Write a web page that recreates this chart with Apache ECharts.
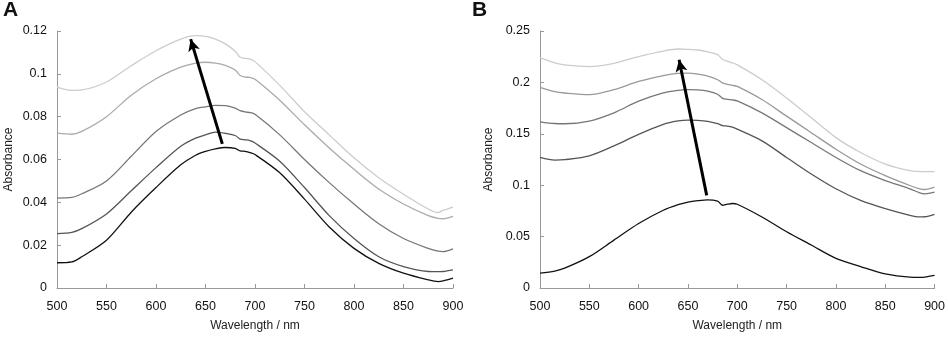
<!DOCTYPE html>
<html>
<head>
<meta charset="utf-8">
<script src="https://cdn.jsdelivr.net/npm/echarts@6/dist/echarts.min.js"></script>
<style>
  html, body { margin: 0; padding: 0; background: #fff; }
  #chart { width: 948px; height: 337px; }
</style>
</head>
<body>
<div id="chart"></div>
<script>
// wavelengths (nm) at which the curves were read
const wavelengths = [500, 515, 525, 550, 575, 600, 625, 640, 650, 660, 670, 680, 685, 690, 695, 700, 725, 750, 775, 800, 825, 850, 875, 885, 890, 900];

// panel A, bottom (black) to top (lightest)
const a1 = [0.0118, 0.0122, 0.0146, 0.0223, 0.0354, 0.0469, 0.0575, 0.0620, 0.0638, 0.0650, 0.0656, 0.0652, 0.0640, 0.0638, 0.0632, 0.0623, 0.0538, 0.0415, 0.0285, 0.0185, 0.0115, 0.0069, 0.0038, 0.0030, 0.0033, 0.0046];
const a2 = [0.0254, 0.0260, 0.0277, 0.0346, 0.0454, 0.0562, 0.0662, 0.0700, 0.0715, 0.0728, 0.0722, 0.0712, 0.0695, 0.0692, 0.0688, 0.0677, 0.0592, 0.0469, 0.0338, 0.0231, 0.0146, 0.0100, 0.0077, 0.0076, 0.0077, 0.0085];
const a3 = [0.0420, 0.0423, 0.0440, 0.0500, 0.0615, 0.0731, 0.0808, 0.0838, 0.0846, 0.0853, 0.0852, 0.0840, 0.0828, 0.0822, 0.0819, 0.0811, 0.0715, 0.0600, 0.0492, 0.0392, 0.0300, 0.0231, 0.0185, 0.0172, 0.0170, 0.0183];
const a4 = [0.0723, 0.0718, 0.0731, 0.0800, 0.0900, 0.0977, 0.1031, 0.1050, 0.1054, 0.1050, 0.1040, 0.1018, 0.0992, 0.0985, 0.0983, 0.0975, 0.0877, 0.0762, 0.0654, 0.0554, 0.0462, 0.0392, 0.0338, 0.0325, 0.0323, 0.0334];
const a5 = [0.0938, 0.0923, 0.0925, 0.0962, 0.1038, 0.1108, 0.1162, 0.1178, 0.1175, 0.1162, 0.1140, 0.1105, 0.1077, 0.1072, 0.1069, 0.1057, 0.0946, 0.0823, 0.0715, 0.0608, 0.0515, 0.0438, 0.0369, 0.0352, 0.0362, 0.0378];

// panel B
const b1 = [0.0145, 0.0165, 0.0193, 0.0305, 0.0466, 0.0627, 0.0756, 0.0810, 0.0836, 0.0850, 0.0858, 0.0845, 0.0805, 0.0815, 0.0822, 0.0815, 0.0691, 0.0547, 0.0418, 0.0289, 0.0209, 0.0138, 0.0106, 0.0104, 0.0106, 0.0122];
const b2 = [0.1270, 0.1244, 0.1248, 0.1286, 0.1383, 0.1495, 0.1592, 0.1625, 0.1633, 0.1630, 0.1620, 0.1598, 0.1580, 0.1575, 0.1565, 0.1545, 0.1431, 0.1270, 0.1109, 0.0965, 0.0852, 0.0772, 0.0707, 0.0691, 0.0693, 0.0717];
const b3 = [0.1617, 0.1600, 0.1598, 0.1624, 0.1704, 0.1817, 0.1897, 0.1922, 0.1929, 0.1927, 0.1915, 0.1885, 0.1845, 0.1835, 0.1830, 0.1820, 0.1704, 0.1560, 0.1415, 0.1270, 0.1141, 0.1045, 0.0965, 0.0925, 0.0916, 0.0932];
const b4 = [0.1952, 0.1910, 0.1897, 0.1881, 0.1929, 0.2010, 0.2067, 0.2088, 0.2090, 0.2080, 0.2062, 0.2026, 0.1995, 0.1980, 0.1972, 0.1961, 0.1833, 0.1672, 0.1511, 0.1350, 0.1206, 0.1093, 0.0997, 0.0965, 0.0958, 0.0981];
const b5 = [0.2241, 0.2190, 0.2170, 0.2154, 0.2186, 0.2251, 0.2305, 0.2325, 0.2322, 0.2315, 0.2298, 0.2270, 0.2225, 0.2205, 0.2190, 0.2170, 0.2026, 0.1849, 0.1656, 0.1463, 0.1318, 0.1206, 0.1141, 0.1133, 0.1132, 0.1132];

// arrows: [tail, head] as [wavelength, absorbance]
const arrowA = [[667, 0.0673], [635, 0.1162]];
const arrowB = [[669, 0.0901], [641, 0.2220]];

const colorsA = ['#111', '#555', '#777', '#aaa', '#ccc'];
const colorsB = ['#111', '#555', '#777', '#999', '#ccc'];

const font = 'Liberation Sans, Arial, sans-serif';
const pair = ys => wavelengths.map((w, i) => [w, ys[i]]);

const xAxisOf = gridIndex => ({
  type: 'value', gridIndex,
  min: 500, max: 900, interval: 50,
  name: 'Wavelength / nm', nameLocation: 'middle', nameGap: 32,
  nameTextStyle: { color: '#222', fontSize: 12, fontFamily: font },
  axisLine: { lineStyle: { color: '#999' } },
  axisTick: { inside: true, length: 4, lineStyle: { color: '#999' } },
  axisLabel: { color: '#111', fontSize: 12.5, fontFamily: font, margin: 12 },
  splitLine: { show: false }
});

const yAxisOf = (gridIndex, max, interval, gap) => ({
  type: 'value', gridIndex,
  min: 0, max, interval,
  name: 'Absorbance', nameLocation: 'middle', nameGap: gap,
  nameTextStyle: { color: '#222', fontSize: 12, fontFamily: font },
  axisLine: { show: true, lineStyle: { color: '#999' } },
  axisTick: { show: true, inside: true, length: 4, lineStyle: { color: '#999' } },
  axisLabel: { color: '#111', fontSize: 12.5, fontFamily: font, margin: 10 },
  splitLine: { show: false }
});

const lineOf = (data, color, idx) => ({
  type: 'line', xAxisIndex: idx, yAxisIndex: idx,
  data: pair(data), showSymbol: false, smooth: 0.3,
  lineStyle: { color, width: 1.3 }, silent: true
});

const arrowOf = arr => ({
  silent: true,
  symbol: ['none', 'arrow'], symbolSize: [9, 12],
  label: { show: false },
  lineStyle: { color: '#000', width: 3, type: 'solid' },
  data: [[{ coord: arr[0] }, { coord: arr[1] }]]
});

const seriesA = [a1, a2, a3, a4, a5].map((d, i) => lineOf(d, colorsA[i], 0));
const seriesB = [b1, b2, b3, b4, b5].map((d, i) => lineOf(d, colorsB[i], 1));
seriesA[0].markLine = arrowOf(arrowA);
seriesB[0].markLine = arrowOf(arrowB);

const chart = echarts.init(document.getElementById('chart'));
chart.setOption({
  animation: false,
  backgroundColor: '#fff',
  title: [
    { text: 'A', left: 3, top: 0, padding: 0, textStyle: { fontSize: 21, fontWeight: 'bold', color: '#111', fontFamily: font } },
    { text: 'B', left: 472, top: 0, padding: 0, textStyle: { fontSize: 21, fontWeight: 'bold', color: '#111', fontFamily: font } }
  ],
  grid: [
    { left: 57, right: 495, top: 31, bottom: 47 },
    { left: 540, right: 12, top: 31, bottom: 47 }
  ],
  xAxis: [xAxisOf(0), xAxisOf(1)],
  yAxis: [yAxisOf(0, 0.12, 0.02, 42), yAxisOf(1, 0.25, 0.05, 45)],
  series: seriesA.concat(seriesB)
});
</script>
</body>
</html>
